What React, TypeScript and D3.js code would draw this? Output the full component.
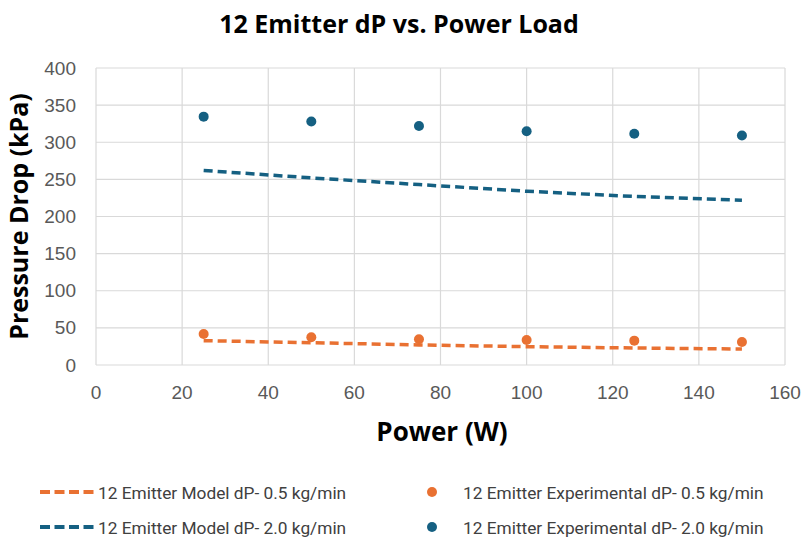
import React from "react";
import * as d3 from "d3";

const powers = [25, 50, 75, 100, 125, 150];
const modelLow = [32.8, 30, 27, 24.7, 22.9, 21.5];
const expLow = [41.7, 37.3, 34.6, 33.7, 32.8, 31];
const modelHigh = [262, 252, 243, 234, 227, 222];
const expHigh = [334.5, 328, 322, 314.7, 311.5, 309];
const xTicks = [0, 20, 40, 60, 80, 100, 120, 140, 160];
const yTicks = [0, 50, 100, 150, 200, 250, 300, 350, 400];
const legendLabels = [
  "12 Emitter Model dP- 0.5 kg/min",
  "12 Emitter Experimental dP- 0.5 kg/min",
  "12 Emitter Model dP- 2.0 kg/min",
  "12 Emitter Experimental dP- 2.0 kg/min",
];

const ORANGE = "#E97132";
const BLUE = "#156082";

export default function App() {
  const W = 801, H = 538;
  const left = 96, right = 785, top = 68, bottom = 365;
  const x = d3.scaleLinear().domain([0, 160]).range([left, right]);
  const y = d3.scaleLinear().domain([0, 400]).range([bottom, top]);
  const line = d3
    .line<number>()
    .x((_, i) => x(powers[i]))
    .y((d) => y(d));
  const tickFont = "'Liberation Sans', Arial, sans-serif";
  const boldFont = "'Open Sans', 'Noto Sans', sans-serif";
  const legFont = "Roboto, sans-serif";
  const row1 = 492, row2 = 527;
  return (
    <svg width={W} height={H} style={{ position: "absolute", left: 0, top: 0, background: "#fff" }}>
      <text x={399} y={33} textAnchor="middle" fontFamily={boldFont} fontWeight={700} fontSize={25} fill="#000">
        12 Emitter dP vs. Power Load
      </text>
      {xTicks.map((t) => (
        <line key={"gx" + t} x1={x(t)} x2={x(t)} y1={top} y2={bottom} stroke="#d9d9d9" strokeWidth={1.2} />
      ))}
      {yTicks.map((t) => (
        <line key={"gy" + t} x1={left} x2={right} y1={y(t)} y2={y(t)} stroke="#d9d9d9" strokeWidth={1.2} />
      ))}
      {yTicks.map((t) => (
        <text key={"ly" + t} x={76} y={y(t) + 6.5} textAnchor="end" fontFamily={tickFont} fontSize={19} fill="#595959">
          {t}
        </text>
      ))}
      {xTicks.map((t) => (
        <text key={"lx" + t} x={x(t)} y={399} textAnchor="middle" fontFamily={tickFont} fontSize={19} fill="#595959">
          {t}
        </text>
      ))}
      <path d={line(modelHigh) || ""} fill="none" stroke={BLUE} strokeWidth={3.5} strokeDasharray="9 5" />
      <path d={line(modelLow) || ""} fill="none" stroke={ORANGE} strokeWidth={3.5} strokeDasharray="9 5" />
      {expLow.map((v, i) => (
        <circle key={"el" + i} cx={x(powers[i])} cy={y(v)} r={5} fill={ORANGE} />
      ))}
      {expHigh.map((v, i) => (
        <circle key={"eh" + i} cx={x(powers[i])} cy={y(v)} r={5} fill={BLUE} />
      ))}
      <text
        x={0}
        y={0}
        transform={`translate(28,${(top + bottom) / 2}) rotate(-90)`}
        textAnchor="middle"
        fontFamily={boldFont}
        fontWeight={700}
        fontSize={25}
        fill="#000"
      >
        Pressure Drop (kPa)
      </text>
      <text x={442} y={441} textAnchor="middle" fontFamily={boldFont} fontWeight={700} fontSize={26} fill="#000">
        Power (W)
      </text>
      {/* legend */}
      <line x1={40} x2={94} y1={row1} y2={row1} stroke={ORANGE} strokeWidth={4} strokeDasharray="10 4.5" />
      <text x={98} y={row1 + 6.5} fontFamily={legFont} fontSize={17.3} fill="#404040">{legendLabels[0]}</text>
      <circle cx={432} cy={row1} r={5} fill={ORANGE} />
      <text x={463} y={row1 + 6.5} fontFamily={legFont} fontSize={17.3} fill="#404040">{legendLabels[1]}</text>
      <line x1={40} x2={94} y1={row2} y2={row2} stroke={BLUE} strokeWidth={4} strokeDasharray="10 4.5" />
      <text x={98} y={row2 + 6.5} fontFamily={legFont} fontSize={17.3} fill="#404040">{legendLabels[2]}</text>
      <circle cx={432} cy={row2} r={5} fill={BLUE} />
      <text x={463} y={row2 + 6.5} fontFamily={legFont} fontSize={17.3} fill="#404040">{legendLabels[3]}</text>
    </svg>
  );
}
